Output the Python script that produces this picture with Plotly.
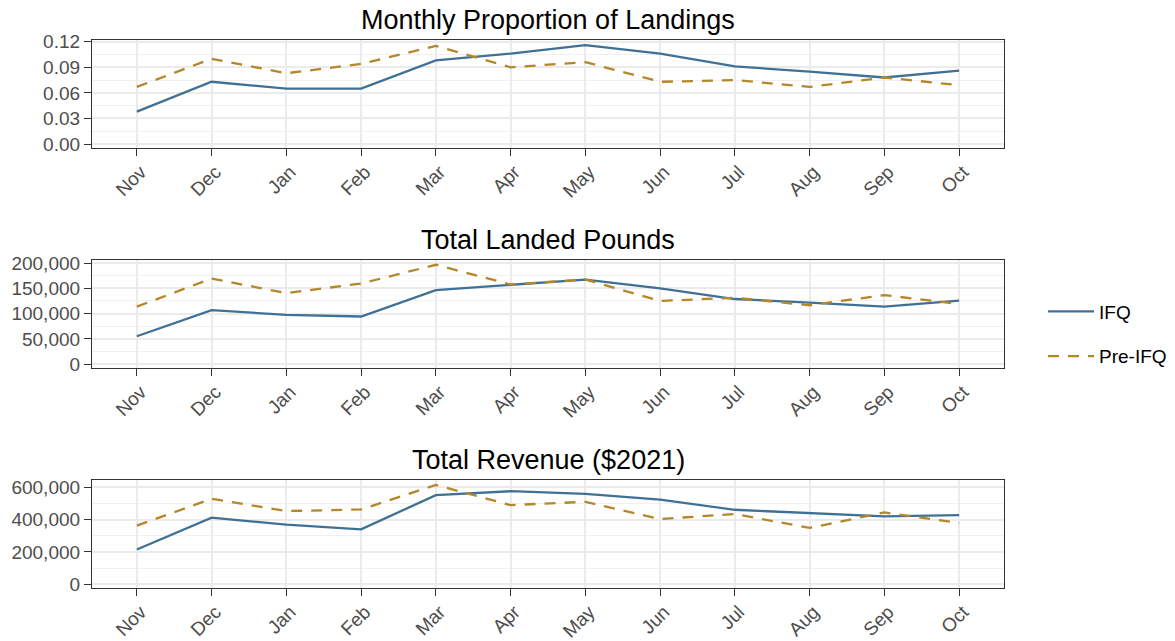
import plotly.graph_objects as go

months = ["Nov", "Dec", "Jan", "Feb", "Mar", "Apr", "May", "Jun", "Jul", "Aug", "Sep", "Oct"]

prop_ifq = [0.038, 0.073, 0.065, 0.065, 0.098, 0.106, 0.116, 0.106, 0.091, 0.085, 0.078, 0.086]
prop_pre = [0.067, 0.100, 0.083, 0.094, 0.115, 0.090, 0.096, 0.073, 0.075, 0.067, 0.078, 0.069]

lbs_ifq = [55300, 106800, 97700, 94400, 146500, 156800, 167400, 149800, 128900, 121700, 113900, 125600]
lbs_pre = [113900, 169300, 140600, 159500, 196600, 157600, 167400, 125000, 131400, 116600, 136700, 119100]

rev_ifq = [214700, 411000, 368100, 339300, 550300, 574800, 558300, 523300, 460100, 439900, 419000, 427600]
rev_pre = [362000, 527600, 452100, 462000, 613500, 488900, 509200, 403100, 433700, 347900, 443600, 378500]

titles = ["Monthly Proportion of Landings", "Total Landed Pounds", "Total Revenue ($2021)"]
series_names = ["IFQ", "Pre-IFQ"]

W, H = 1175, 641


def px(xw):
    return xw / W


def py(yw):
    return 1 - yw / H


FONT = "Liberation Sans, Arial, sans-serif"
C_IFQ = "#3F7196"
C_PRE = "#B5862A"
GRID = "#EBEBEB"
BORDER = "#333333"
TICKTXT = "#4D4D4D"

panels = [
    dict(ifq=prop_ifq, pre=prop_pre, rng=[-0.005, 0.122], dtick=0.03, minor=0.015, fmt=".2f", top=40, bot=148.3),
    dict(ifq=lbs_ifq, pre=lbs_pre, rng=[-8000, 206000], dtick=50000, minor=25000, fmt=",", top=260, bot=368.3),
    dict(ifq=rev_ifq, pre=rev_pre, rng=[-25000, 644000], dtick=200000, minor=100000, fmt=",", top=480, bot=588.3),
]

x0, x1 = px(92), px(1004)

fig = go.Figure()
layout = dict(
    width=W, height=H,
    margin=dict(l=0, r=0, t=0, b=0),
    paper_bgcolor="white", plot_bgcolor="white",
    font=dict(family=FONT, size=19, color="#000000"),
    showlegend=True,
    legend=dict(x=px(1043), xanchor="left", y=py(334), yanchor="middle",
                font=dict(size=19, color="#000000"), traceorder="grouped",
                tracegroupgap=17, itemwidth=46, bgcolor="rgba(0,0,0,0)"),
)
annotations = []

for i, p in enumerate(panels):
    n = "" if i == 0 else str(i + 1)
    xa, ya = "x" + n, "y" + n
    for name, vals, col, dash in [("IFQ", p["ifq"], C_IFQ, "solid"), ("Pre-IFQ", p["pre"], C_PRE, "11px,9px")]:
        fig.add_trace(go.Scatter(
            x=months, y=vals, mode="lines", name=name, legendgroup=name,
            showlegend=(i == 0), xaxis=xa, yaxis=ya,
            line=dict(color=col, width=2.3, dash=dash),
        ))
    layout["xaxis" + n] = dict(
        domain=[x0, x1], anchor=ya, type="category", categoryorder="array", categoryarray=months,
        range=[-0.6, 11.6], showgrid=True, gridcolor=GRID, gridwidth=1.8,
        showline=True, mirror=True, linecolor=BORDER, linewidth=1.2,
        ticks="outside", ticklen=7, tickwidth=1.4, tickcolor=BORDER,
        tickangle=-45, tickfont=dict(size=19, color=TICKTXT), automargin=False,
        ticklabelstandoff=-3, ticklabelshift=4,
    )
    layout["yaxis" + n] = dict(
        domain=[py(p["bot"]), py(p["top"])], anchor=xa,
        range=p["rng"], tick0=0, dtick=p["dtick"], tickformat=p["fmt"],
        showgrid=True, gridcolor=GRID, gridwidth=1.8, zeroline=False,
        minor=dict(tick0=0, dtick=p["minor"], showgrid=True, gridcolor="#F0F0F0", gridwidth=1, ticks=""),
        showline=True, mirror=True, linecolor=BORDER, linewidth=1.2,
        ticks="outside", ticklen=7, tickwidth=1.4, tickcolor=BORDER,
        tickfont=dict(size=19, color=TICKTXT), automargin=False,
    )
    annotations.append(dict(
        text=titles[i], xref="paper", yref="paper", x=(x0 + x1) / 2, xanchor="center",
        y=py(p["top"] - 20), yanchor="middle", showarrow=False,
        font=dict(size=27, color="#000000", family=FONT),
    ))

layout["annotations"] = annotations
fig.update_layout(**layout)
# the page body has a default 8px margin; remove it so the figure fills the window
fig.write_html("out.html", config={"displayModeBar": False},
               post_script="document.body.style.margin='0';")
